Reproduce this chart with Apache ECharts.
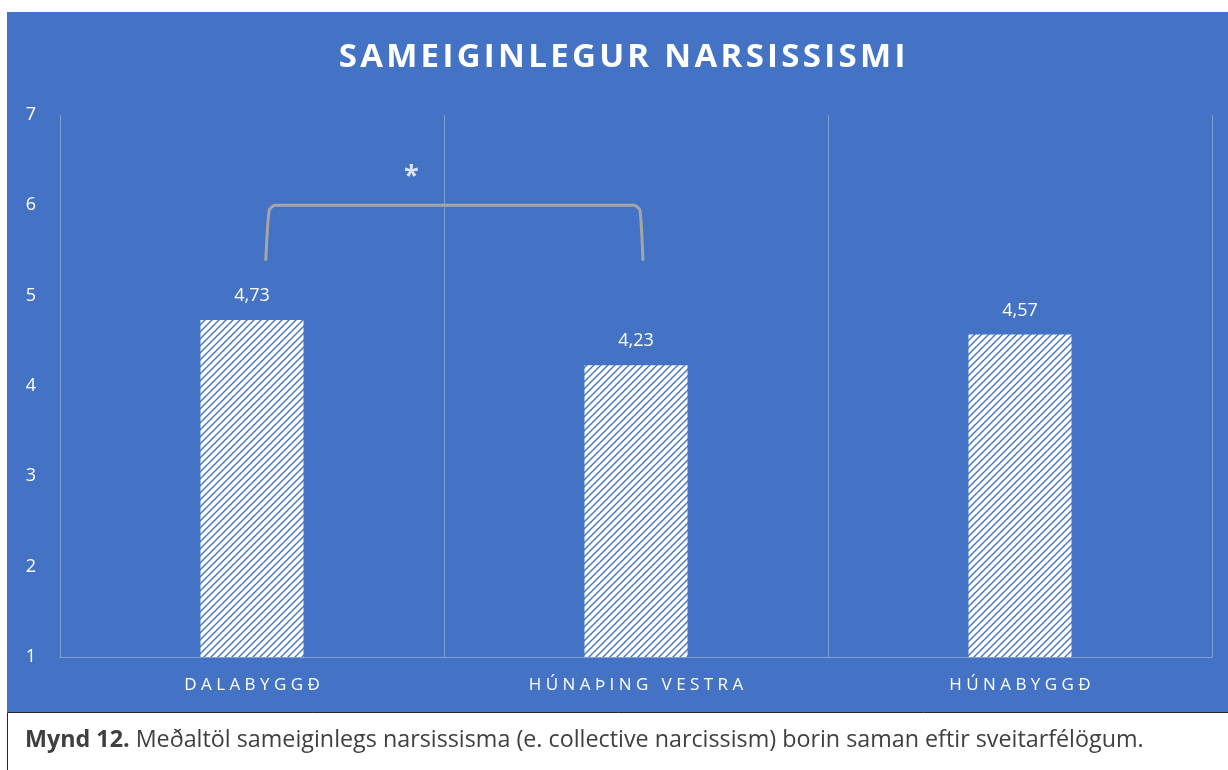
<!DOCTYPE html>
<html>
<head>
<meta charset="utf-8">
<script src="https://cdn.jsdelivr.net/npm/echarts@6/dist/echarts.min.js"></script>
<style>
  html, body { margin: 0; padding: 0; background: #fff; }
  #chart { width: 1228px; height: 770px; }
</style>
</head>
<body>
<div id="chart"></div>
<script>
// data
const categories = ['DALABYGGÐ', 'HÚNAÞING VESTRA', 'HÚNABYGGÐ']
const means = [4.73, 4.23, 4.57]
const yTicks = [1, 7, 1] // min, max, interval
// significance bracket (x in category units on a 0..3 axis, y in scale units)
const bracketX = [0.536, 0.545, 0.56, 1.495, 1.51, 1.518]
const bracketY = [5.4, 5.95, 6.0, 6.0, 5.95, 5.4]
const starPos = [0.915, 6.32]

const blue = '#4472C4'
const faint = 'rgba(255,255,255,0.33)'
const font = '"Open Sans", "Noto Sans", sans-serif'

// hatched fill like the office "wide upward diagonal" pattern
function hatch() {
  const c = document.createElement('canvas')
  const s = 7
  c.width = s
  c.height = s
  const ctx = c.getContext('2d')
  ctx.fillStyle = '#fff'
  ctx.fillRect(0, 0, s, s)
  ctx.strokeStyle = blue
  ctx.lineWidth = 1.4
  ctx.beginPath()
  ctx.moveTo(-1, s + 1); ctx.lineTo(s + 1, -1)
  ctx.moveTo(-1, 1); ctx.lineTo(1, -1)
  ctx.moveTo(s - 1, s + 1); ctx.lineTo(s + 1, s - 1)
  ctx.stroke()
  return c
}

// letter-spaced caps like the original
const spaced = (t, sep) => t.split('').join(sep)

const chart = echarts.init(document.getElementById('chart'))
chart.setOption({
  animation: false,
  backgroundColor: '#fff',
  textStyle: { fontFamily: font },
  graphic: [
    { type: 'rect', z: -10, silent: true, shape: { x: 7, y: 12, width: 1221, height: 700 }, style: { fill: blue } },
    { type: 'rect', z: -10, silent: true, shape: { x: 7.5, y: 712.5, width: 1230, height: 80 }, style: { fill: '#fff', stroke: '#262626', lineWidth: 1 } },
    {
      type: 'text', left: 25, top: 729, silent: true,
      style: {
        text: '{b|Mynd 12.} Meðaltöl sameiginlegs narsissisma (e. collective narcissism) borin saman eftir sveitarfélögum.',
        fill: '#404040', font: '23.3px ' + font,
        rich: { b: { fontWeight: 'bold', fontSize: 23.3, fill: '#404040', fontFamily: font } }
      }
    },
    {
      type: 'text', x: 622, y: 58, silent: true,
      style: {
        text: spaced('SAMEIGINLEGUR NARSISSISMI', '\u200A'),
        fill: '#fff', font: 'bold 33px ' + font,
        align: 'center', verticalAlign: 'middle'
      }
    }
  ],
  grid: { left: 60, right: 16, top: 115, bottom: 113 },
  xAxis: [
    {
      type: 'category',
      data: categories,
      axisLine: { lineStyle: { color: faint, width: 1 } },
      axisTick: { show: false },
      splitLine: { show: true, lineStyle: { color: faint, width: 1 } },
      axisLabel: {
        color: '#fff', fontSize: 17, margin: 20,
        formatter: (v) => spaced(v, ' ')
      }
    },
    { type: 'value', min: 0, max: 3, show: false }
  ],
  yAxis: {
    type: 'value',
    min: yTicks[0],
    max: yTicks[1],
    interval: yTicks[2],
    axisLine: { show: false },
    axisTick: { show: false },
    splitLine: { show: false },
    axisLabel: { color: '#fff', fontSize: 18, margin: 24 }
  },
  series: [
    {
      type: 'bar',
      data: means,
      barWidth: 103,
      itemStyle: { color: { image: hatch(), repeat: 'repeat' } },
      label: {
        show: true,
        position: 'top',
        distance: 15,
        color: '#fff',
        fontSize: 18,
        formatter: (p) => p.value.toFixed(2).replace('.', ',')
      }
    },
    {
      type: 'line',
      xAxisIndex: 1,
      data: bracketX.map((x, i) => [x, bracketY[i]]),
      symbol: 'none',
      smooth: 0.2,
      lineStyle: { color: '#A6A6A6', width: 3, cap: 'round', join: 'round' },
      z: 5
    },
    {
      type: 'scatter',
      xAxisIndex: 1,
      data: [starPos],
      symbolSize: 0,
      label: {
        show: true, position: 'inside', formatter: '*',
        color: '#fff', fontSize: 27, fontWeight: 'bold',
        textBorderWidth: 0
      }
    }
  ]
})
</script>
</body>
</html>
